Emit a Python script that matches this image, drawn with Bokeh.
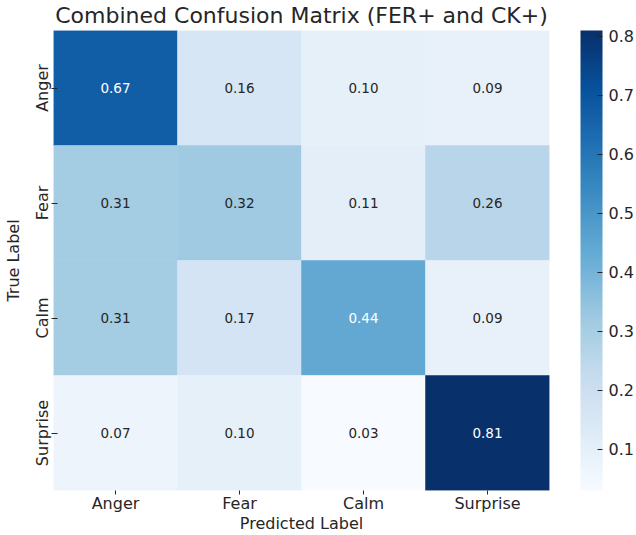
from bokeh.plotting import figure
from bokeh.models import ColumnDataSource, LinearColorMapper, ColorBar, FixedTicker
from bokeh.palettes import Blues256
from bokeh.transform import transform
from bokeh.core.properties import value
from bokeh.embed import file_html
from bokeh.resources import INLINE

# ---- data ----
classes = ["Anger", "Fear", "Calm", "Surprise"]
true_anger = [0.67, 0.16, 0.10, 0.09]
true_fear = [0.31, 0.32, 0.11, 0.26]
true_calm = [0.31, 0.17, 0.44, 0.09]
true_surprise = [0.07, 0.10, 0.03, 0.81]
colorbar_ticks = [0.1, 0.2, 0.3, 0.4, 0.5, 0.6, 0.7, 0.8]

rows = [true_anger, true_fear, true_calm, true_surprise]
xs, ys, vs = [], [], []
for t, row in zip(classes, rows):
    for pcls, v in zip(classes, row):
        xs.append(pcls)
        ys.append(t)
        vs.append(v)
vmin, vmax = min(vs), max(vs)
txt = [f"{v:.2f}" for v in vs]
tcol = ["#ffffff" if v > 0.4 else "#262626" for v in vs]
src = ColumnDataSource(dict(x=xs, y=ys, v=vs, txt=txt, tc=tcol))

FONT = "DejaVu Sans"
INK = "#262626"

mapper = LinearColorMapper(palette=list(Blues256[::-1]), low=vmin, high=vmax)

p = figure(x_range=classes, y_range=classes[::-1],
           frame_width=496, frame_height=460,
           min_border_left=47, min_border_right=85,
           min_border_top=30, min_border_bottom=45,
           output_backend="svg", toolbar_location=None,
           title="Combined Confusion Matrix (FER+ and CK+)")

p.rect(x="x", y="y", width=1, height=1, source=src,
       fill_color=transform("v", mapper), line_color=transform("v", mapper), line_width=0.5)
p.text(x="x", y="y", text="txt", source=src, text_align="center", text_baseline="middle",
       text_font=value(FONT), text_font_size="13.5px", text_color="tc")

p.title.align = "center"
p.title.vertical_align = "top"
p.title.text_font = FONT
p.title.text_font_size = "22px"
p.title.text_font_style = "normal"
p.title.text_color = INK
p.title.standoff = 2

p.grid.visible = False
p.outline_line_color = None
p.background_fill_color = "white"

for ax in (p.xaxis[0], p.yaxis[0]):
    ax.axis_line_color = None
    ax.major_label_text_font = FONT
    ax.major_label_text_font_size = "16px"
    ax.major_label_text_color = INK
    ax.axis_label_text_font = FONT
    ax.axis_label_text_font_size = "16px"
    ax.axis_label_text_font_style = "normal"
    ax.axis_label_text_color = INK
    ax.major_tick_line_color = INK
    ax.minor_tick_line_color = None

p.xaxis.axis_label = "Predicted Label"
p.xaxis.major_tick_out = 4
p.xaxis.major_tick_in = 0
p.xaxis.major_label_standoff = -1
p.xaxis.axis_label_standoff = -2

p.yaxis.axis_label = "True Label"
p.yaxis.major_label_orientation = "vertical"
p.yaxis.major_tick_out = 2
p.yaxis.major_tick_in = 4
p.yaxis.major_label_standoff = 0
p.yaxis.axis_label_standoff = 7

cb = ColorBar(color_mapper=mapper, ticker=FixedTicker(ticks=colorbar_ticks),
              width=22, height=460, padding=0, margin=0,
              location=(527, 0),
              major_label_text_font=FONT, major_label_text_font_size="16px",
              major_label_text_color=INK,
              major_tick_line_color=INK, major_tick_in=5, major_tick_out=0,
              label_standoff=6, bar_line_color=None, border_line_color=None,
              background_fill_alpha=0)
p.add_layout(cb, "center")

open("out.html", "w").write(file_html(p, INLINE))
